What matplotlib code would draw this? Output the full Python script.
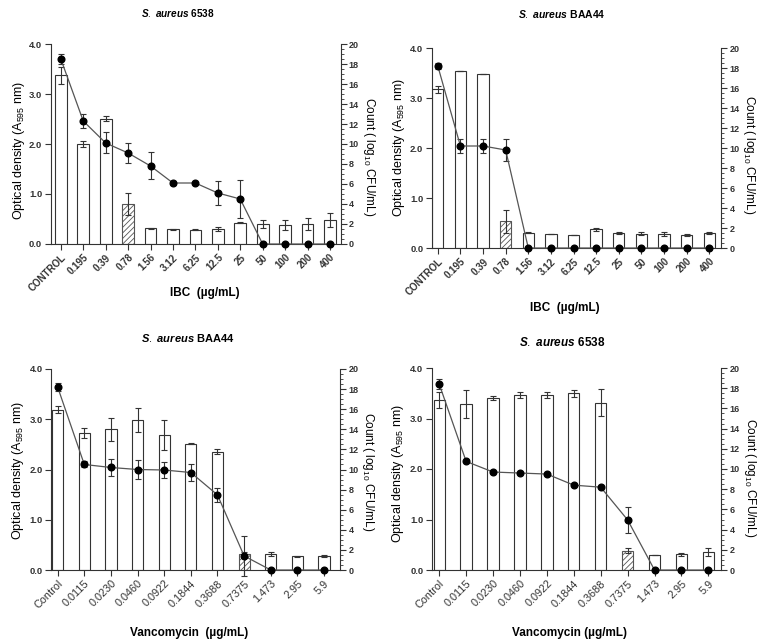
import matplotlib
matplotlib.use("Agg")
import matplotlib.pyplot as plt
from matplotlib.ticker import MultipleLocator

plt.rcParams['font.family'] = ['Liberation Sans', 'DejaVu Sans']
plt.rcParams['mathtext.fontset'] = 'custom'
plt.rcParams['mathtext.rm'] = 'Liberation Sans'
plt.rcParams['mathtext.it'] = 'Liberation Sans:italic:bold'
plt.rcParams['mathtext.bf'] = 'Liberation Sans:bold'
plt.rcParams['hatch.linewidth'] = 0.6

# IBC concentrations (ug/mL)
ibc_labels = ['CONTROL', '0.195', '0.39', '0.78', '1.56', '3.12', '6.25',
              '12.5', '25', '50', '100', '200', '400']
# Vancomycin concentrations (ug/mL)
van_labels = ['Control', '0.0115', '0.0230', '0.0460', '0.0922', '0.1844',
              '0.3688', '0.7375', '1.473', '2.95', '5.9']

# S. aureus 6538 / IBC
od_6538_ibc = [3.38, 2.0, 2.5, 0.8, 0.31, 0.29, 0.28, 0.3, 0.42, 0.4, 0.37, 0.4, 0.48]
od_6538_ibc_err = [0.17, 0.07, 0.05, 0.22, 0.01, 0.01, 0.01, 0.04, 0.01, 0.08, 0.1, 0.12, 0.14]
cfu_6538_ibc = [18.5, 12.3, 10.1, 9.1, 7.8, 6.1, 6.1, 5.1, 4.5, 0, 0, 0, 0]
cfu_6538_ibc_err = [0.5, 0.7, 1.05, 1.0, 1.35, 0.2, 0.1, 1.2, 1.9, 0, 0, 0, 0]

# S. aureus BAA44 / IBC
od_baa_ibc = [3.18, 3.54, 3.48, 0.54, 0.31, 0.29, 0.26, 0.38, 0.31, 0.29, 0.28, 0.26, 0.31]
od_baa_ibc_err = [0.07, 0.0, 0.0, 0.23, 0.01, 0.0, 0.0, 0.03, 0.02, 0.03, 0.04, 0.02, 0.02]
cfu_baa_ibc = [18.2, 10.2, 10.2, 9.8, 0, 0, 0, 0, 0, 0, 0, 0, 0]
cfu_baa_ibc_err = [0.3, 0.7, 0.7, 1.1, 0, 0, 0, 0, 0, 0, 0, 0, 0]

# S. aureus BAA44 / Vancomycin
od_baa_van = [3.19, 2.72, 2.8, 2.99, 2.69, 2.51, 2.35, 0.31, 0.32, 0.27, 0.28]
od_baa_van_err = [0.07, 0.1, 0.23, 0.24, 0.3, 0.01, 0.05, 0.05, 0.04, 0.01, 0.02]
cfu_baa_van = [18.2, 10.5, 10.2, 10.0, 9.95, 9.7, 7.47, 1.4, 0, 0, 0]
cfu_baa_van_err = [0.4, 0.3, 0.8, 0.9, 0.8, 0.8, 0.7, 2.0, 0, 0, 0]

# S. aureus 6538 / Vancomycin
od_6538_van = [3.37, 3.29, 3.41, 3.47, 3.47, 3.5, 3.31, 0.38, 0.3, 0.31, 0.36]
od_6538_van_err = [0.16, 0.28, 0.04, 0.06, 0.06, 0.07, 0.27, 0.05, 0.0, 0.03, 0.08]
cfu_6538_van = [18.4, 10.75, 9.7, 9.6, 9.5, 8.4, 8.2, 4.96, 0, 0, 0]
cfu_6538_van_err = [0.5, 0, 0, 0, 0, 0, 0, 1.3, 0, 0, 0]

W, H = 763, 644
fig = plt.figure(figsize=(W / 100, H / 100), dpi=100)

dark = '#333333'


def ftext(px, py, s, **kw):
    # place a label at pixel position (from top-left) of the figure
    fig.text(px / W, 1 - py / H, s, ha='center', va='center', **kw)


def panel(box, labels, od, od_err, cfu, cfu_err, hatch_idx, title, title_pos, title_size,
          xlabel, xlabel_pos, ylab_pos, ylab2_pos, width, xlim, bold_ticks):
    left, top, right, bottom = box
    ax = fig.add_axes([left / W, 1 - bottom / H, (right - left) / W, (bottom - top) / H])
    x = list(range(len(labels)))
    bars = ax.bar(x, od, width=width, color='white', edgecolor=dark, linewidth=0.8,
                  yerr=od_err, capsize=2.5,
                  error_kw=dict(ecolor=dark, elinewidth=0.8, capthick=0.8), zorder=2)
    bars[hatch_idx].set_hatch('//////')
    bars[hatch_idx].set_edgecolor('#555555')
    ax.set_ylim(0, 4.0)
    ax.set_xlim(*xlim)
    ax.set_yticks([0, 1, 2, 3, 4])
    ax.set_yticklabels(['0.0', '1.0', '2.0', '3.0', '4.0'], fontsize=6.8, fontweight='bold')
    ax.set_xticks(x)
    ax.set_xticklabels(labels, rotation=45, ha='right', rotation_mode='anchor',
                       fontsize=7 if bold_ticks else 7.8,
                       fontweight='bold' if bold_ticks else 'normal')
    for s in ['top', 'right']:
        ax.spines[s].set_visible(False)
    for s in ['left', 'bottom']:
        ax.spines[s].set_color(dark)
        ax.spines[s].set_linewidth(0.8)
    ax.tick_params(colors=dark, width=0.8, length=4)
    ax.tick_params(axis='x', pad=2)
    ax.tick_params(axis='y', pad=2)

    ax2 = ax.twinx()
    ax2.errorbar(x, cfu, yerr=cfu_err, color='#555555', linewidth=0.9, marker='o',
                 markersize=4.8, markerfacecolor='black', markeredgecolor='black',
                 ecolor=dark, elinewidth=0.8, capsize=2.5, capthick=0.8, zorder=3,
                 clip_on=False)
    ax2.set_ylim(0, 20)
    ax2.yaxis.set_major_locator(MultipleLocator(2))
    ax2.yaxis.set_minor_locator(MultipleLocator(0.5))
    for s in ['top', 'left', 'bottom']:
        ax2.spines[s].set_visible(False)
    ax2.spines['right'].set_color(dark)
    ax2.spines['right'].set_linewidth(0.8)
    ax2.tick_params(axis='y', which='major', colors=dark, width=0.8, length=4,
                    labelsize=6.5, pad=2)
    ax2.tick_params(axis='y', which='minor', colors=dark, width=0.6, length=2)
    for t in ax2.get_yticklabels():
        t.set_fontweight('bold')

    ftext(*title_pos, title, fontsize=title_size, fontweight='bold')
    ftext(*xlabel_pos, xlabel, fontsize=8.5, fontweight='bold')
    ftext(*ylab_pos, 'Optical density (A$_{595}$ nm)', fontsize=9, rotation=90)
    ftext(*ylab2_pos, 'Count ( log$_{10}$ CFU/mL)', fontsize=8.5, rotation=270)
    return ax, ax2


panel((50.5, 44, 340.5, 244), ibc_labels, od_6538_ibc, od_6538_ibc_err,
      cfu_6538_ibc, cfu_6538_ibc_err, 3, r'$\it{S.\ aureus}$ 6538', (178, 13), 7.2,
      'IBC  (µg/mL)', (205, 293), (19, 150), (369, 157),
      0.52, (-0.46, 12.47), True)
panel((431.7, 48, 721, 248), ibc_labels, od_baa_ibc, od_baa_ibc_err,
      cfu_baa_ibc, cfu_baa_ibc_err, 3, r'$\it{S.\ aureus}$ BAA44', (562, 14), 7.5,
      'IBC  (µg/mL)', (565, 308), (399, 147), (749, 155),
      0.5, (-0.27, 12.52), True)
panel((51, 369, 340, 570), van_labels, od_baa_van, od_baa_van_err,
      cfu_baa_van, cfu_baa_van_err, 7, r'$\it{S.\ aureus}$ BAA44', (188, 338), 8,
      'Vancomycin  (µg/mL)', (189, 633), (18, 470), (368, 472),
      0.42, (-0.25, 10.6), False)
panel((431.7, 368, 721, 570), van_labels, od_6538_van, od_6538_van_err,
      cfu_6538_van, cfu_6538_van_err, 7, r'$\it{S.\ aureus}$ 6538', (562, 343), 8.5,
      'Vancomycin (µg/mL)', (569, 633), (398, 473), (750, 478),
      0.42, (-0.28, 10.47), False)

fig.savefig('out.png', dpi=100)
